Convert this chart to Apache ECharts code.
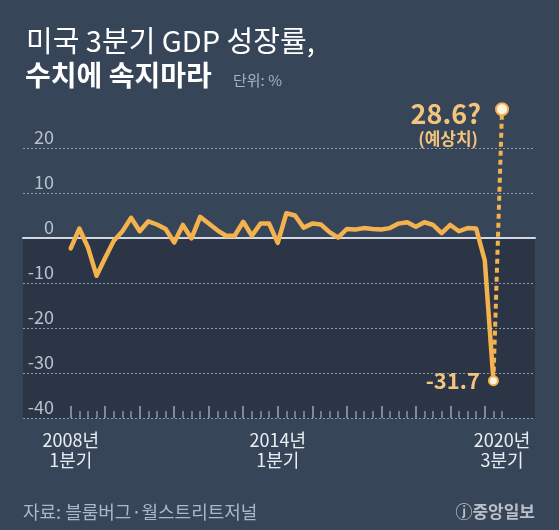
<!DOCTYPE html>
<html>
<head>
<meta charset="utf-8">
<script src="https://cdn.jsdelivr.net/npm/echarts@6/dist/echarts.min.js"></script>
<style>
html,body{margin:0;padding:0;background:#374559;}
#c{width:559px;height:530px;}
</style>
</head>
<body>
<div id="c"></div>
<script>
// US real GDP growth, quarter-on-quarter annualized (%), 2008Q1 .. 2020Q2
const growth = [
  -2.3, 2.1, -2.1, -8.4,   // 2008
  -4.4, -0.6, 1.5, 4.5,    // 2009
  1.5, 3.7, 3.0, 2.0,      // 2010
  -1.0, 2.9, -0.1, 4.7,    // 2011
  3.2, 1.7, 0.5, 0.5,      // 2012
  3.6, 0.5, 3.2, 3.2,      // 2013
  -1.1, 5.5, 5.0, 2.3,     // 2014
  3.2, 3.0, 1.3, 0.1,      // 2015
  2.0, 1.9, 2.2, 2.0,      // 2016
  1.9, 2.2, 3.2, 3.5,      // 2017
  2.5, 3.5, 2.9, 1.1,      // 2018
  2.9, 1.5, 2.2, 2.1,      // 2019
  -5.0, -31.7              // 2020 Q1, Q2
];
const forecast = 28.6;      // 2020Q3 forecast
const labelQuarterIdx = [0, 24, 50];
const quarterLabels = ['2008년\n1분기', '2014년\n1분기', '2020년\n3분기'];
const yTicks = [-40, -30, -20, -10, 0, 10, 20];

const FONT = "'Noto Sans CJK KR', 'Noto Sans', sans-serif";
const ORANGE = '#f4b24e';
const LABEL_ORANGE = '#f2c47c';

const nQ = growth.length + 1; // 51 quarters incl. forecast
const majorTicks = [];
const minorTicks = [];
for (let i = 0; i < nQ; i++) { (i % 4 === 0 ? majorTicks : minorTicks).push(i); }

const actualData = growth.map((v, i) => {
  if (i === growth.length - 1) {
    return {
      value: [i, v], symbol: 'circle', symbolSize: 9,
      itemStyle: {color: '#fff4e0', borderColor: ORANGE, borderWidth: 2},
      label: {
        show: true, position: 'left', distance: 8,
        formatter: String(v), color: LABEL_ORANGE,
        fontSize: 22, fontWeight: 'bold', fontFamily: FONT
      }
    };
  }
  return {value: [i, v], symbol: 'none'};
});
const lastIdx = growth.length - 1;
const forecastData = [
  {value: [lastIdx, growth[lastIdx]], symbol: 'none'},
  {
    value: [lastIdx + 1, forecast], symbol: 'circle', symbolSize: 12,
    itemStyle: {color: '#fff4e0', borderColor: ORANGE, borderWidth: 2},
    label: {
      show: true, position: 'left', distance: 14, offset: [0, 15],
      formatter: '{a|' + forecast + '?}\n{b|(예상치)}',
      rich: {
        a: {fontSize: 27, fontWeight: 'bold', color: LABEL_ORANGE, fontFamily: FONT, align: 'right', lineHeight: 28},
        b: {fontSize: 17, fontWeight: 'bold', color: LABEL_ORANGE, fontFamily: FONT, align: 'right', lineHeight: 22, padding: [0, 3, 0, 0]}
      }
    }
  }
];

const xMin = -5.53, xMax = 53.82;
const xLabelMap = {};
labelQuarterIdx.forEach((q, k) => { xLabelMap[q] = quarterLabels[k]; });

const chart = echarts.init(document.getElementById('c'), null, {renderer: 'canvas'});
chart.setOption({
  backgroundColor: '#374559',
  animation: false,
  title: [
    {text: '미국 3분기 GDP 성장률,', left: 26, top: 26, padding: 0,
     textStyle: {color: '#ffffff', fontSize: 29, fontWeight: 'normal', fontFamily: FONT}},
    {text: '수치에 속지마라', left: 25, top: 61, padding: 0,
     textStyle: {color: '#ffffff', fontSize: 28, fontWeight: 'bold', fontFamily: FONT}},
    {text: '단위: %', left: 233, top: 73, padding: 0,
     textStyle: {color: '#a9b3c1', fontSize: 15, fontWeight: 'normal', fontFamily: FONT}}
  ],
  graphic: [
    {type: 'text', left: 23, top: 503,
     style: {text: '자료: 블룸버그·월스트리트저널', fill: '#aeb7c4', fontSize: 18, fontFamily: FONT}},
    {type: 'text', right: 24, top: 503,
     style: {text: 'ⓙ중앙일보', fill: '#b9c0ca', fontSize: 17, fontWeight: 'bold', fontFamily: FONT}}
  ],
  grid: {left: 23, right: 24, top: 103, bottom: 112},
  xAxis: [
    { // data axis, its line is the zero line
      type: 'value', min: xMin, max: xMax,
      axisLine: {show: true, onZero: true, lineStyle: {color: '#d3d9e1', width: 2}},
      axisTick: {show: false}, axisLabel: {show: false}, splitLine: {show: false}
    },
    { // major ticks + labels
      type: 'value', min: xMin, max: xMax, position: 'bottom',
      axisLine: {show: false, onZero: false},
      axisTick: {show: true, inside: true, length: 12, customValues: majorTicks,
                 lineStyle: {color: '#9aa5b5', width: 1.5}},
      axisLabel: {show: true, customValues: labelQuarterIdx, margin: 12,
                  formatter: v => xLabelMap[Math.round(v)] || '',
                  color: '#e9edf2', fontSize: 18, lineHeight: 20, fontFamily: FONT},
      splitLine: {show: false}
    },
    { // minor ticks
      type: 'value', min: xMin, max: xMax, position: 'bottom',
      axisLine: {show: false, onZero: false},
      axisTick: {show: true, inside: true, length: 7, customValues: minorTicks,
                 lineStyle: {color: '#8893a4', width: 1.5}},
      axisLabel: {show: false}, splitLine: {show: false}
    }
  ],
  yAxis: {
    type: 'value', min: -40, max: 30, interval: 10,
    axisLine: {show: false}, axisTick: {show: false},
    axisLabel: {
      show: true, inside: true, margin: 31, align: 'right', verticalAlign: 'bottom',
      showMaxLabel: false, padding: [0, 0, 2, 0],
      formatter: v => (yTicks.indexOf(v) >= 0 ? String(v) : ''),
      color: '#b7c0cd', fontSize: 18, fontFamily: FONT
    },
    splitLine: {show: true, showMaxLine: false,
                lineStyle: {color: '#8e9aab', width: 1, type: [2, 2]}},
    splitArea: {show: true, areaStyle: {color: ['#2b3545', '#2b3545', '#2b3545', '#2b3545',
                                               'rgba(0,0,0,0)', 'rgba(0,0,0,0)', 'rgba(0,0,0,0)']}}
  },
  series: [
    {
      type: 'line', xAxisIndex: 0, data: forecastData, z: 3,
      lineStyle: {color: ORANGE, width: 4, type: [5, 4], cap: 'butt'},
      itemStyle: {color: ORANGE}
    },
    {
      type: 'line', xAxisIndex: 0, data: actualData, z: 4,
      lineStyle: {color: ORANGE, width: 4.5, join: 'round', cap: 'round'},
      itemStyle: {color: ORANGE}
    }
  ]
});
</script>
</body>
</html>
